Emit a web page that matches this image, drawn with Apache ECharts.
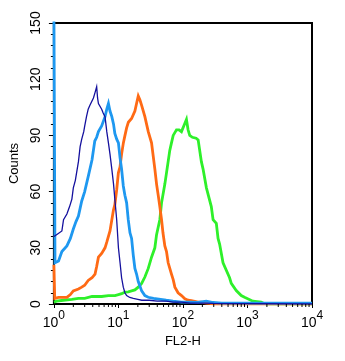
<!DOCTYPE html>
<html>
<head>
<meta charset="utf-8">
<script src="https://cdn.jsdelivr.net/npm/echarts@6/dist/echarts.min.js"></script>
<style>
html, body { margin: 0; padding: 0; background: #fff; }
#chart { width: 345px; height: 361px; }
</style>
</head>
<body>
<div id="chart"></div>
<script>
// FL2-H channel (log scale) vs. event counts for four overlaid histograms.
const yTicks = [0, 30, 60, 90, 120, 150];
const xDecades = [1, 10, 100, 1000, 10000];

const navyTrace = [
  [1.0, 36], [1.1, 37], [1.18, 38], [1.33, 39], [1.41, 45], [1.5, 46], [1.59, 48], [1.75, 52],
  [1.9, 56], [2.0, 62], [2.15, 66], [2.4, 76], [2.55, 84], [2.7, 88], [2.9, 92], [3.0, 95],
  [3.2, 100], [3.4, 104], [3.6, 106], [3.86, 107], [4.1, 110], [4.35, 113], [4.6, 116],
  [4.75, 110], [4.9, 107], [5.2, 106], [5.5, 104], [5.8, 102], [6.2, 100], [6.6, 92],
  [7.0, 86], [7.4, 80], [7.9, 72], [8.4, 64], [8.8, 56], [9.4, 45], [10.0, 30], [10.6, 22],
  [11.2, 14], [11.9, 9], [12.6, 6], [13.4, 4.5], [15, 3.5], [17, 3], [20, 2.5], [23, 2],
  [30, 2], [40, 1.5], [55, 1.5], [70, 1], [95, 1], [130, 0.5], [200, 0.5], [300, 0.3], [10000, 0]
];

const skyTrace = [
  [1.0, 160], [1.04, 22], [1.11, 22], [1.18, 23], [1.33, 28], [1.41, 29], [1.59, 31], [1.8, 35],
  [2.0, 40], [2.2, 44], [2.4, 47], [2.7, 55], [3.0, 60], [3.4, 68], [3.9, 77], [4.3, 87],
  [4.6, 89], [4.9, 92], [5.5, 95], [6.2, 100], [6.6, 104], [7.0, 107], [7.4, 103], [7.9, 100],
  [8.4, 96], [8.8, 91], [9.4, 88], [10.0, 86], [10.6, 78], [11.2, 72], [11.9, 63], [12.6, 58],
  [13.4, 54], [14.2, 45], [15.1, 38], [16, 35], [17, 26], [18, 19], [19.1, 16], [20.3, 12],
  [22.9, 7], [25.7, 4.5], [29, 3.6], [35, 3], [45, 2.5], [55, 2], [70, 1.5], [95, 1],
  [130, 1], [170, 0.8], [230, 1.5], [260, 1.2], [290, 0.8], [400, 0.5], [10000, 0.5]
];

const orangeTrace = [
  [1.0, 21], [1.03, 3], [1.18, 3.5], [1.59, 3.5], [1.8, 5], [2.0, 7], [2.4, 8], [2.7, 9],
  [3.0, 10], [3.4, 12.6], [3.9, 14], [4.34, 16], [4.6, 20], [4.9, 25], [5.5, 27], [6.2, 30],
  [6.6, 33], [7.4, 39], [8.36, 50], [8.8, 53], [9.4, 61], [9.98, 70], [10.57, 73], [11.2, 80],
  [11.93, 86], [12.63, 90], [13.4, 94], [14.25, 97], [15.1, 98], [16.0, 99], [17.0, 100],
  [18, 103], [19.1, 107], [20.3, 111], [21.5, 109], [22.9, 106], [25.7, 100], [29, 92],
  [32.6, 86], [36.7, 72], [39, 64], [41.4, 58], [43.8, 52], [46.6, 45], [49, 38], [52.4, 31],
  [55.6, 28], [59, 22], [66.4, 16], [70.6, 13], [75, 9], [84, 6], [95, 4.5], [107, 2.8],
  [120, 2], [135, 1.8], [172, 1], [193, 1], [230, 0.5], [260, 0.3], [300, 0], [10000, 0]
];

const greenTrace = [
  [1.0, 1], [1.1, 1.5], [1.4, 2], [1.9, 2.5], [2.4, 3], [3.0, 3], [3.9, 4], [5.5, 4],
  [7.0, 4.5], [8.85, 4.5], [10, 5], [11.2, 5.5], [12.6, 6.3], [14.2, 6.5], [16, 7], [18, 7.5],
  [20.3, 9], [22.9, 11], [25.7, 14.4], [29, 19], [32.6, 25], [36.7, 30], [39, 37], [43.8, 45],
  [46.6, 54], [52.4, 64], [55.6, 70], [62.5, 82], [66.4, 86], [70.6, 90], [79.4, 93], [87, 93],
  [94.8, 92], [103, 95], [113.3, 98.5], [120, 93], [127.4, 90], [140, 89], [160, 88.5],
  [172, 87.6], [193, 76], [205, 72], [231, 62], [245, 61], [275, 52], [293, 45], [329, 43],
  [350, 35], [370, 32], [418, 22], [442, 23], [528, 14], [561, 11], [670, 7.2], [800, 4.5],
  [900, 3.6], [1214, 1.5], [1631, 1], [1800, 0.3], [2000, 0], [10000, 0]
];

// minor ticks at 2..9 within each decade
const xMinorTicks = [];
for (const d of xDecades.slice(0, -1)) {
  for (let k = 2; k <= 9; k++) xMinorTicks.push([k * d, 0]);
}

const font = 'Liberation Sans, Arial, Helvetica, sans-serif';

const chart = echarts.init(document.getElementById('chart'), null, { renderer: 'canvas' });

function line(name, data, color, width) {
  return {
    name, type: 'line', data, showSymbol: false, symbol: 'none',
    lineStyle: { color, width, join: 'miter' }, clip: true, z: 3, animation: false
  };
}

chart.setOption({
  animation: false,
  backgroundColor: '#fff',
  grid: {
    left: 52, right: 33, top: 23, bottom: 57,
    show: true, borderColor: '#000', borderWidth: 2, backgroundColor: 'transparent'
  },
  xAxis: {
    type: 'log', logBase: 10, min: xDecades[0], max: xDecades[xDecades.length - 1],
    name: 'FL2-H', nameLocation: 'middle', nameGap: 27,
    nameTextStyle: { fontFamily: font, fontSize: 13, color: '#000' },
    axisLine: { lineStyle: { color: '#000', width: 2 } },
    axisTick: { length: 4, lineStyle: { color: '#000', width: 1 } },
    splitLine: { show: false },
    axisLabel: {
      margin: 6, color: '#000', fontFamily: font,
      formatter: v => '{b|10}{s|' + Math.round(Math.log10(v)) + '}',
      rich: {
        b: { fontSize: 14, fontFamily: font, color: '#000' },
        s: { fontSize: 12, fontFamily: font, color: '#000', padding: [0, 0, 14, 0] }
      }
    }
  },
  yAxis: {
    type: 'value', min: yTicks[0], max: yTicks[yTicks.length - 1], interval: 30,
    name: 'Counts', nameLocation: 'middle', nameGap: 25, nameRotate: 90,
    nameTextStyle: { fontFamily: font, fontSize: 13, color: '#000' },
    axisLine: { show: true, lineStyle: { color: '#000', width: 2 } },
    axisTick: { show: true, length: 5, lineStyle: { color: '#000', width: 1 } },
    minorTick: { show: true, splitNumber: 5, length: 3, lineStyle: { color: '#000', width: 1 } },
    splitLine: { show: false },
    axisLabel: { rotate: 90, margin: 11, fontSize: 14, fontFamily: font, color: '#000' }
  },
  series: [
    line('green', greenTrace, '#2ef02a', 2.8),
    line('orange', orangeTrace, '#ff6a15', 2.8),
    line('sky', skyTrace, '#1e98f0', 2.8),
    line('navy', navyTrace, '#14109e', 1.3),
    {
      type: 'custom', data: xMinorTicks, clip: false, z: 4, silent: true,
      renderItem(params, api) {
        const p = api.coord([api.value(0), 0]);
        return {
          type: 'line',
          shape: { x1: p[0], y1: p[1], x2: p[0], y2: p[1] + 3 },
          style: { stroke: '#000', lineWidth: 1 }
        };
      }
    }
  ]
});
</script>
</body>
</html>
